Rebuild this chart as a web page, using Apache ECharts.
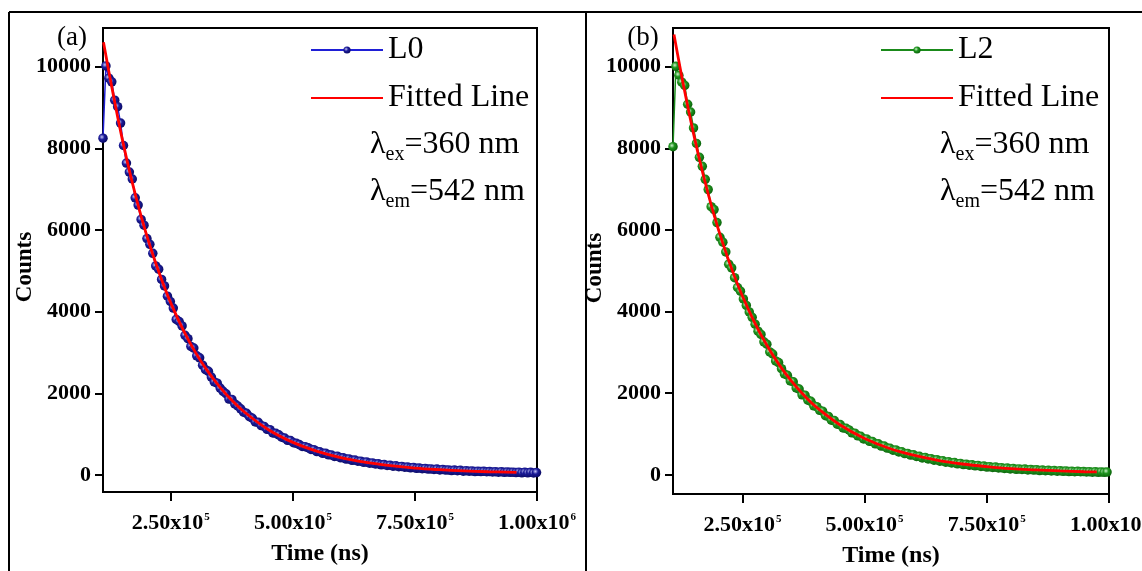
<!DOCTYPE html>
<html>
<head>
<meta charset="utf-8">
<script src="https://cdn.jsdelivr.net/npm/echarts@6/dist/echarts.min.js"></script>
<style>
  html, body { margin: 0; padding: 0; background: #fff; }
  #chart { width: 1142px; height: 571px; }
</style>
</head>
<body>
<div id="chart"></div>
<script>
// ---- Decay data (counts vs time, ns) ----
// L0 measurement: uniform channel sampling
const l0Start = 111000;
const l0Step = 6000;
const l0Counts = [
  8250, 10020, 9720, 9630, 9180, 9020, 8620, 8070, 7640, 7420,
  7250, 6790, 6610, 6260, 6120, 5790, 5650, 5430, 5120, 5040,
  4790, 4630, 4380, 4250, 4090, 3810, 3760, 3650, 3420, 3340,
  3150, 3110, 2920, 2870, 2690, 2580, 2540, 2400, 2280, 2250,
  2130, 2050, 1990, 1860, 1850, 1740, 1690, 1620, 1540, 1510,
  1430, 1390, 1300, 1290, 1210, 1190, 1120, 1110, 1030, 1020,
  985, 925, 905, 850, 845, 790, 775, 745, 700, 695,
  670, 625, 620, 575, 570, 530, 535, 495, 490, 455,
  460, 425, 420, 390, 395, 360, 365, 340, 340, 310,
  320, 290, 295, 270, 275, 250, 255, 235, 240, 215,
  225, 205, 210, 190, 195, 175, 185, 165, 170, 155,
  160, 145, 150, 135, 145, 125, 135, 120, 125, 110,
  120, 105, 115, 95, 105, 95, 100, 85, 95, 85,
  90, 80, 85, 75, 80, 70, 80, 65, 75, 65,
  70, 60, 70, 55, 65, 55, 65, 50, 60
];

// L2 measurement
const l2Start = 108000;
const l2Step = 6000;
const l2Counts = [
  8040, 10010, 9790, 9620, 9540, 9080, 8890, 8500, 8120, 7780,
  7560, 7240, 6990, 6570, 6500, 6180, 5820, 5700, 5460, 5160,
  5070, 4830, 4590, 4500, 4310, 4150, 3990, 3860, 3690, 3520,
  3440, 3260, 3200, 3010, 2960, 2790, 2750, 2600, 2470, 2440,
  2300, 2280, 2130, 2100, 1960, 1950, 1830, 1800, 1690, 1670,
  1580, 1560, 1450, 1430, 1340, 1330, 1240, 1230, 1150, 1140,
  1100, 1030, 1020, 955, 945, 880, 880, 820, 815, 760,
  760, 705, 705, 655, 650, 605, 610, 560, 565, 520,
  525, 485, 490, 450, 455, 415, 425, 390, 395, 360,
  370, 335, 345, 310, 320, 290, 300, 270, 280, 250,
  260, 235, 245, 220, 230, 205, 215, 190, 200, 180,
  190, 170, 175, 155, 165, 145, 155, 135, 145, 130,
  140, 120, 130, 115, 125, 105, 115, 100, 110, 95,
  105, 90, 100, 85, 95, 80, 90, 75, 85, 75,
  80, 70, 78, 65, 75, 62, 72, 60, 68
];

// Fitted decay curves
const fitL0Time = [112000, 130000, 150000, 170000, 190000, 210000, 230000, 250000, 275000, 300000, 325000, 350000, 375000, 400000, 450000, 500000, 550000, 600000, 650000, 700000, 750000, 800000, 850000, 900000, 958000];
const fitL0Counts = [10600, 9440, 8250, 7210, 6300, 5510, 4820, 4210, 3560, 3010, 2550, 2160, 1830, 1550, 1110, 800, 580, 420, 310, 230, 170, 130, 100, 80, 65];

const fitL2Time = [110000, 130000, 150000, 170000, 190000, 210000, 230000, 250000, 275000, 300000, 325000, 350000, 375000, 400000, 450000, 500000, 550000, 600000, 650000, 700000, 750000, 800000, 850000, 900000, 950000, 975000];
const fitL2Counts = [10790, 9510, 8360, 7340, 6450, 5670, 4985, 4380, 3730, 3175, 2700, 2300, 1960, 1670, 1220, 890, 650, 480, 355, 265, 200, 150, 120, 95, 75, 70];

// Axis ticks
const xTicks = [250000, 500000, 750000, 1000000];
const yTicks = [0, 2000, 4000, 6000, 8000, 10000];

// Panel annotations
const panelLabels = ['(a)', '(b)'];
const exText = '=360 nm';
const emText = '=542 nm';

// ---- helpers ----
const pairs = (start, step, vals) => vals.map((v, i) => [start + i * step, v]);
const zip = (xs, ys) => xs.map((x, i) => [x, ys[i]]);

const SERIF = 'Liberation Serif, Times New Roman, serif';

function sphere(light, mid, dark) {
  return {
    type: 'radial', x: 0.38, y: 0.38, r: 0.62,
    colorStops: [
      { offset: 0, color: light },
      { offset: 0.45, color: mid },
      { offset: 1, color: dark }
    ]
  };
}

function xTickLabel(v) {
  const e = Math.floor(Math.log10(v) + 1e-9);
  const m = v / Math.pow(10, e);
  return '{m|' + m.toFixed(2) + 'x10}{e|' + e + '}';
}

function makeX(gi, min) {
  return {
    type: 'value', gridIndex: gi, min: min, max: 1000000,
    name: 'Time (ns)', nameLocation: 'middle', nameGap: 50,
    nameTextStyle: { fontFamily: SERIF, fontWeight: 'bold', fontSize: 24, color: '#000' },
    axisLine: { show: true, onZero: false, lineStyle: { color: '#000', width: 2 } },
    axisTick: { show: true, inside: false, length: 9, customValues: xTicks, lineStyle: { color: '#000', width: 2 } },
    axisLabel: {
      customValues: xTicks, margin: 20, showMinLabel: true, showMaxLabel: true,
      formatter: xTickLabel,
      rich: {
        m: { fontFamily: SERIF, fontWeight: 'bold', fontSize: 22, color: '#000' },
        e: { fontFamily: SERIF, fontWeight: 'bold', fontSize: 11, color: '#000', verticalAlign: 'top', padding: [0, 0, 0, 1] }
      }
    },
    splitLine: { show: false }
  };
}

function makeY(gi, min) {
  return {
    type: 'value', gridIndex: gi, min: min, max: 10948,
    name: 'Counts', nameLocation: 'middle', nameGap: 66, nameRotate: 90, nameMoveOverlap: false,
    nameTextStyle: { fontFamily: SERIF, fontWeight: 'bold', fontSize: 23, color: '#000', padding: [0, 14, 0, 0] },
    axisLine: { show: true, onZero: false, lineStyle: { color: '#000', width: 2 } },
    axisTick: { show: true, inside: false, length: 8, customValues: yTicks, lineStyle: { color: '#000', width: 2 } },
    axisLabel: {
      customValues: yTicks, margin: 12, formatter: v => String(v),
      fontFamily: SERIF, fontWeight: 'bold', fontSize: 22, color: '#000'
    },
    splitLine: { show: false }
  };
}

function lambdaText(x, y, sub, rest) {
  return {
    type: 'text', x: x, y: y, z: 100,
    style: {
      text: '{l|λ}{s|' + sub + '}{n|' + rest + '}',
      verticalAlign: 'middle', align: 'left',
      rich: {
        l: { fontFamily: SERIF, fontSize: 32, color: '#000', lineHeight: 34 },
        s: { fontFamily: SERIF, fontSize: 20, color: '#000', verticalAlign: 'bottom', lineHeight: 34, padding: [0, 0, -3, 0] },
        n: { fontFamily: SERIF, fontSize: 32, color: '#000', lineHeight: 34 }
      }
    }
  };
}

const legendBase = {
  orient: 'vertical', itemWidth: 72, itemHeight: 9, itemGap: 16, padding: 0,
  textStyle: { fontFamily: SERIF, fontSize: 32, color: '#000' },
  selectedMode: false
};

const chart = echarts.init(document.getElementById('chart'), null, { renderer: 'canvas' });

chart.setOption({
  backgroundColor: '#fff',
  animation: false,
  textStyle: { fontFamily: SERIF },
  grid: [
    { left: 103, top: 28, width: 434, height: 464, show: true, borderColor: '#000', borderWidth: 2, backgroundColor: 'transparent', outerBoundsMode: 'none', containLabel: false },
    { left: 673, top: 28, width: 436, height: 466, show: true, borderColor: '#000', borderWidth: 2, backgroundColor: 'transparent', outerBoundsMode: 'none', containLabel: false }
  ],
  xAxis: [makeX(0, 111000), makeX(1, 108000)],
  yAxis: [makeY(0, -416), makeY(1, -470)],
  legend: [
    Object.assign({}, legendBase, {
      left: 310, top: 34,
      data: [{ name: 'L0' }, { name: 'Fitted Line', itemStyle: { opacity: 0 } }]
    }),
    Object.assign({}, legendBase, {
      left: 880, top: 34,
      data: [{ name: 'L2' }, { name: 'Fitted Line', itemStyle: { opacity: 0 } }]
    })
  ],
  series: [
    {
      name: 'L0', type: 'line', xAxisIndex: 0, yAxisIndex: 0,
      data: pairs(l0Start, l0Step, l0Counts),
      symbol: 'circle', symbolSize: 9.5, showSymbol: true,
      lineStyle: { color: '#1f1fd6', width: 1.5 },
      itemStyle: { color: sphere('#c4c4f4', '#1c1c9a', '#0b0b66') },
      z: 2
    },
    {
      name: 'Fitted Line', type: 'line', xAxisIndex: 0, yAxisIndex: 0,
      data: zip(fitL0Time, fitL0Counts), smooth: 0.4,
      symbol: 'none', lineStyle: { color: '#ff0000', width: 2.8 },
      itemStyle: { color: '#ff0000' },
      z: 3
    },
    {
      name: 'L2', type: 'line', xAxisIndex: 1, yAxisIndex: 1,
      data: pairs(l2Start, l2Step, l2Counts),
      symbol: 'circle', symbolSize: 9.5, showSymbol: true,
      lineStyle: { color: '#1a8a1a', width: 1.5 },
      itemStyle: { color: sphere('#ccf2cc', '#1f941f', '#0c660c') },
      z: 2
    },
    {
      name: 'Fitted Line', type: 'line', xAxisIndex: 1, yAxisIndex: 1,
      data: zip(fitL2Time, fitL2Counts), smooth: 0.4,
      symbol: 'none', lineStyle: { color: '#ff0000', width: 2.8 },
      itemStyle: { color: '#ff0000' },
      z: 3
    }
  ],
  graphic: [
    // outer frame of the two panels
    { type: 'line', shape: { x1: 9, y1: 12, x2: 1142, y2: 12 }, style: { stroke: '#000', lineWidth: 2 }, z: 50 },
    { type: 'line', shape: { x1: 9, y1: 12, x2: 9, y2: 571 }, style: { stroke: '#000', lineWidth: 2 }, z: 50 },
    { type: 'line', shape: { x1: 586, y1: 12, x2: 586, y2: 571 }, style: { stroke: '#000', lineWidth: 2 }, z: 50 },
    // panel tags
    { type: 'text', x: 72, y: 38, z: 100, style: { text: panelLabels[0], fontFamily: SERIF, fontSize: 27, fill: '#000', align: 'center', verticalAlign: 'middle' } },
    { type: 'text', x: 643, y: 38, z: 100, style: { text: panelLabels[1], fontFamily: SERIF, fontSize: 27, fill: '#000', align: 'center', verticalAlign: 'middle' } },
    // excitation / emission wavelengths
    lambdaText(370, 145, 'ex', exText),
    lambdaText(370, 192, 'em', emText),
    lambdaText(940, 145, 'ex', exText),
    lambdaText(940, 192, 'em', emText)
  ]
});
</script>
</body>
</html>
